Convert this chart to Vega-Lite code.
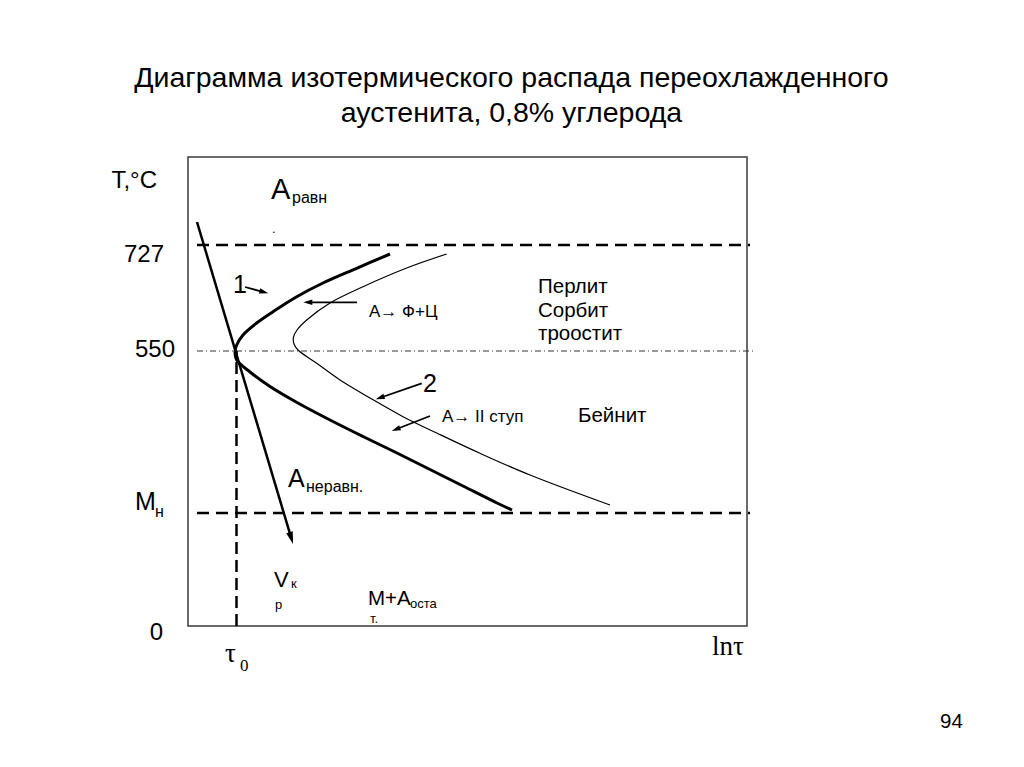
{
  "$schema": "https://vega.github.io/schema/vega-lite/v6.json",
  "width": 559,
  "height": 469,
  "autosize": {"type": "none"},
  "padding": {"left": 188, "top": 157, "right": 277, "bottom": 141},
  "background": "white",
  "config": {
    "view": {"stroke": "#3a3a3a", "strokeWidth": 1.5},
    "text": {"font": "Liberation Sans", "color": "black"}
  },
  "title": {
    "text": ["Диаграмма изотермического распада переохлажденного", "аустенита, 0,8% углерода"],
    "font": "Liberation Sans",
    "fontSize": 28.5,
    "fontWeight": "normal",
    "color": "black",
    "anchor": "middle",
    "dx": 44,
    "offset": 30,
    "lineHeight": 35
  },
  "datasets": {
    "levels": [
      {"name": "727", "x": 9, "x2": 562, "y": 381},
      {"name": "Мн", "x": 9, "x2": 562, "y": 113}
    ],
    "level550": [{"name": "550", "x": 9, "x2": 567, "y": 275}],
    "tau0": [{"x": 48.5, "y": 0, "y2": 275}],
    "curve1": [
      {"i": 1, "x": 202, "y": 372},
      {"i": 2, "x": 168.7, "y": 357.7},
      {"i": 3, "x": 135, "y": 343},
      {"i": 4, "x": 108.7, "y": 329.3},
      {"i": 5, "x": 85, "y": 314.3},
      {"i": 6, "x": 68.7, "y": 303},
      {"i": 7, "x": 55, "y": 291},
      {"i": 8, "x": 48.7, "y": 281},
      {"i": 9, "x": 47, "y": 274},
      {"i": 10, "x": 48.7, "y": 266},
      {"i": 11, "x": 62, "y": 254},
      {"i": 12, "x": 82, "y": 239.5},
      {"i": 13, "x": 109, "y": 223.5},
      {"i": 14, "x": 142, "y": 206},
      {"i": 15, "x": 175, "y": 189.5},
      {"i": 16, "x": 209, "y": 173},
      {"i": 17, "x": 242, "y": 156.5},
      {"i": 18, "x": 275, "y": 140},
      {"i": 19, "x": 309, "y": 123},
      {"i": 20, "x": 324, "y": 116}
    ],
    "curve2": [
      {"i": 1, "x": 258.7, "y": 372},
      {"i": 2, "x": 218.7, "y": 358},
      {"i": 3, "x": 175, "y": 339.3},
      {"i": 4, "x": 142, "y": 323},
      {"i": 5, "x": 118.7, "y": 306},
      {"i": 6, "x": 109, "y": 296},
      {"i": 7, "x": 105.5, "y": 289},
      {"i": 8, "x": 106, "y": 282},
      {"i": 9, "x": 110, "y": 276},
      {"i": 10, "x": 128.7, "y": 262.7},
      {"i": 11, "x": 152, "y": 246},
      {"i": 12, "x": 182, "y": 228},
      {"i": 13, "x": 215, "y": 209.3},
      {"i": 14, "x": 248.7, "y": 193},
      {"i": 15, "x": 292, "y": 172.7},
      {"i": 16, "x": 342, "y": 151},
      {"i": 17, "x": 422, "y": 121}
    ],
    "vkr": [
      {"i": 1, "x": 9, "y": 404},
      {"i": 2, "x": 103.6, "y": 86.8}
    ],
    "arrows": [
      {"id": "a1", "i": 1, "x": 57, "y": 339},
      {"id": "a1", "i": 2, "x": 76.5, "y": 333.7},
      {"id": "a2", "i": 1, "x": 169, "y": 323.7},
      {"id": "a2", "i": 2, "x": 119, "y": 323.7},
      {"id": "a3", "i": 1, "x": 233.7, "y": 242.7},
      {"id": "a3", "i": 2, "x": 191.5, "y": 228},
      {"id": "a4", "i": 1, "x": 242, "y": 210},
      {"id": "a4", "i": 2, "x": 207.5, "y": 196.5}
    ],
    "headBig": [{"id": "vkr", "x": 105, "y": 82, "dir": 163.4}],
    "heads": [
      {"id": "a1", "x": 80.3, "y": 332.7, "dir": 105},
      {"id": "a2", "x": 115.3, "y": 323.7, "dir": 270},
      {"id": "a3", "x": 187.7, "y": 226.7, "dir": 251},
      {"id": "a4", "x": 203.7, "y": 195, "dir": 249}
    ],
    "ticks": [
      {"t": "Т,°С", "x": -31, "y": 438},
      {"t": "727", "x": -24, "y": 364},
      {"t": "550", "x": -13, "y": 269},
      {"t": "0", "x": -25, "y": -14}
    ],
    "big": [
      {"t": "М", "x": -53, "y": 116},
      {"t": "1", "x": 45, "y": 333},
      {"t": "2", "x": 235, "y": 234},
      {"t": "А", "x": 100, "y": 139}
    ],
    "bigA": [
      {"t": "А", "x": 83, "y": 427}
    ],
    "sub16": [
      {"t": "н", "x": -33, "y": 109},
      {"t": "равн", "x": 104, "y": 423},
      {"t": "неравн.", "x": 118, "y": 134}
    ],
    "lab20": [
      {"t": "Перлит", "x": 350, "y": 333},
      {"t": "Сорбит", "x": 350, "y": 309},
      {"t": "троостит", "x": 350, "y": 286},
      {"t": "Бейнит", "x": 390, "y": 204},
      {"t": "М+А", "x": 180, "y": 21},
      {"t": "94", "x": 752, "y": -102}
    ],
    "lab22": [
      {"t": "V", "x": 86, "y": 39}
    ],
    "lab16": [
      {"t": "А→ Ф+Ц", "x": 181, "y": 309},
      {"t": "А→ II ступ", "x": 254, "y": 204}
    ],
    "sub13": [
      {"t": "к", "x": 103, "y": 38},
      {"t": "р", "x": 87, "y": 17},
      {"t": "оста", "x": 222, "y": 18},
      {"t": "т.", "x": 182, "y": 3},
      {"t": ".", "x": 84, "y": 393}
    ],
    "serifBig": [
      {"t": "τ", "x": 37, "y": -36},
      {"t": "lnτ", "x": 524, "y": -29}
    ],
    "serifSub": [{"t": "0", "x": 52, "y": -45}]
  },
  "encoding": {
    "x": {"field": "x", "type": "quantitative", "scale": {"domain": [0, 559], "nice": false, "zero": false}, "axis": null},
    "y": {"field": "y", "type": "quantitative", "scale": {"domain": [0, 469], "nice": false, "zero": false}, "axis": null}
  },
  "layer": [
    {
      "data": {"name": "levels"},
      "mark": {"type": "rule", "color": "black", "strokeWidth": 2.5, "strokeDash": [12, 7]},
      "encoding": {"x2": {"field": "x2"}}
    },
    {
      "data": {"name": "level550"},
      "mark": {"type": "rule", "color": "#333", "strokeWidth": 1, "strokeDash": [6, 3, 1, 3]},
      "encoding": {"x2": {"field": "x2"}}
    },
    {
      "data": {"name": "tau0"},
      "mark": {"type": "rule", "color": "black", "strokeWidth": 2.5, "strokeDash": [12, 6]},
      "encoding": {"y2": {"field": "y2"}}
    },
    {
      "data": {"name": "curve1"},
      "mark": {"type": "line", "color": "black", "strokeWidth": 3, "interpolate": "catmull-rom"},
      "encoding": {"order": {"field": "i", "type": "quantitative"}}
    },
    {
      "data": {"name": "curve2"},
      "mark": {"type": "line", "color": "black", "strokeWidth": 1.2, "interpolate": "catmull-rom"},
      "encoding": {"order": {"field": "i", "type": "quantitative"}}
    },
    {
      "data": {"name": "vkr"},
      "mark": {"type": "line", "color": "black", "strokeWidth": 2.5},
      "encoding": {"order": {"field": "i", "type": "quantitative"}}
    },
    {
      "data": {"name": "arrows"},
      "mark": {"type": "line", "color": "black", "strokeWidth": 1.8},
      "encoding": {"order": {"field": "i", "type": "quantitative"}, "detail": {"field": "id"}}
    },
    {
      "data": {"name": "headBig"},
      "mark": {"type": "point", "shape": "M0,0L0.55,2L-0.55,2Z", "filled": true, "color": "black", "opacity": 1, "size": 150, "strokeWidth": 0},
      "encoding": {"angle": {"field": "dir", "type": "quantitative", "scale": null}}
    },
    {
      "data": {"name": "heads"},
      "mark": {"type": "point", "shape": "M0,0L0.6,2L-0.6,2Z", "filled": true, "color": "black", "opacity": 1, "size": 81, "strokeWidth": 0},
      "encoding": {"angle": {"field": "dir", "type": "quantitative", "scale": null}}
    },
    {
      "data": {"name": "ticks"},
      "mark": {"type": "text", "fontSize": 24, "align": "right", "baseline": "alphabetic"},
      "encoding": {"text": {"field": "t"}}
    },
    {
      "data": {"name": "big"},
      "mark": {"type": "text", "fontSize": 25, "align": "left", "baseline": "alphabetic"},
      "encoding": {"text": {"field": "t"}}
    },
    {
      "data": {"name": "bigA"},
      "mark": {"type": "text", "fontSize": 29, "align": "left", "baseline": "alphabetic"},
      "encoding": {"text": {"field": "t"}}
    },
    {
      "data": {"name": "sub16"},
      "mark": {"type": "text", "fontSize": 16, "align": "left", "baseline": "alphabetic"},
      "encoding": {"text": {"field": "t"}}
    },
    {
      "data": {"name": "lab20"},
      "mark": {"type": "text", "fontSize": 20.5, "align": "left", "baseline": "alphabetic"},
      "encoding": {"text": {"field": "t"}}
    },
    {
      "data": {"name": "lab22"},
      "mark": {"type": "text", "fontSize": 22, "align": "left", "baseline": "alphabetic"},
      "encoding": {"text": {"field": "t"}}
    },
    {
      "data": {"name": "lab16"},
      "mark": {"type": "text", "fontSize": 17, "align": "left", "baseline": "alphabetic"},
      "encoding": {"text": {"field": "t"}}
    },
    {
      "data": {"name": "sub13"},
      "mark": {"type": "text", "fontSize": 13, "align": "left", "baseline": "alphabetic"},
      "encoding": {"text": {"field": "t"}}
    },
    {
      "data": {"name": "serifBig"},
      "mark": {"type": "text", "font": "Liberation Serif", "fontSize": 27, "letterSpacing": 1, "align": "left", "baseline": "alphabetic"},
      "encoding": {"text": {"field": "t"}}
    },
    {
      "data": {"name": "serifSub"},
      "mark": {"type": "text", "font": "Liberation Serif", "fontSize": 17, "align": "left", "baseline": "alphabetic"},
      "encoding": {"text": {"field": "t"}}
    }
  ]
}
